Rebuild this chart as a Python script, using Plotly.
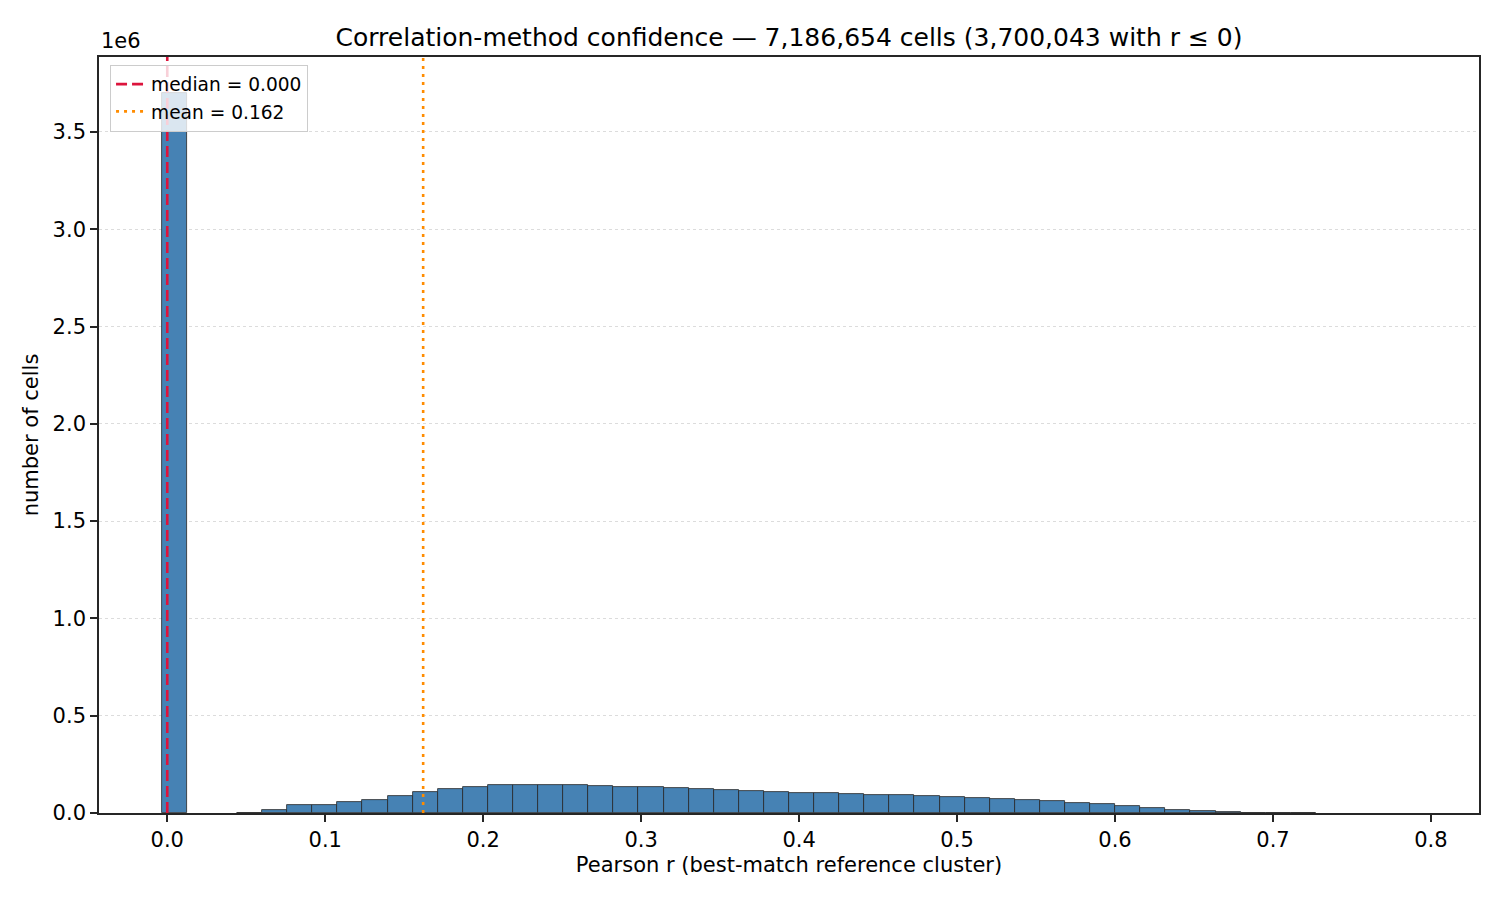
import plotly.graph_objects as go

# ==============================================================================
# DATA
# ==============================================================================

TITLE = "Correlation-method confidence — 7,186,654 cells (3,700,043 with r ≤ 0)"
X_LABEL = "Pearson r (best-match reference cluster)"
Y_LABEL = "number of cells"

# 50 equal bins spanning the observed r range
BIN_LO = -0.0035
BIN_HI = 0.7907
N_BINS = 50

BIN_COUNTS = [
    3700100, 0, 0, 2000, 15000, 41000, 42000, 57000, 67000, 87000,
    108000, 123000, 134000, 144000, 144000, 144000, 144000, 139000, 134000, 134000,
    129000, 123000, 118000, 113000, 108000, 103000, 103000, 98000, 93000, 93000,
    87000, 82000, 77000, 72000, 67000, 62000, 51000, 46000, 36000, 26000,
    15000, 10000, 5000, 2000, 800, 300, 0, 0, 0, 0,
]

MEDIAN_R = 0.000
MEAN_R = 0.162

X_TICKS = [0.0, 0.1, 0.2, 0.3, 0.4, 0.5, 0.6, 0.7, 0.8]
Y_TICKS_1E6 = [0.0, 0.5, 1.0, 1.5, 2.0, 2.5, 3.0, 3.5]

# ==============================================================================
# STYLE
# ==============================================================================

FONT = "DejaVu Sans"
BAR_COLOR = "#4682B4"
MEDIAN_COLOR = "#DC143C"
MEAN_COLOR = "#FF8C00"

bin_w = (BIN_HI - BIN_LO) / N_BINS
centers = [BIN_LO + (i + 0.5) * bin_w for i in range(N_BINS)]
x_pad = 0.05 * (BIN_HI - BIN_LO)
y_top = 1.05 * max(BIN_COUNTS)

# empty bins get no outline (otherwise plotly draws a flat line on the axis)
edge_widths = [0.8 if c > 0 else 0 for c in BIN_COUNTS]

fig = go.Figure()

fig.add_trace(go.Bar(
    x=centers,
    y=BIN_COUNTS,
    width=bin_w,
    marker=dict(color=BAR_COLOR, line=dict(color="#262626", width=edge_widths)),
    showlegend=False,
    hoverinfo="x+y",
))

# vertical reference lines (shapes so they span the full axes height)
fig.add_shape(
    type="line", xref="x", yref="paper", x0=MEDIAN_R, x1=MEDIAN_R, y0=0, y1=1,
    line=dict(color=MEDIAN_COLOR, width=2.6, dash="11px,5px"),
    layer="above", showlegend=True, name=f"median = {MEDIAN_R:.3f}",
)
fig.add_shape(
    type="line", xref="x", yref="paper", x0=MEAN_R, x1=MEAN_R, y0=0, y1=1,
    line=dict(color=MEAN_COLOR, width=2.6, dash="3px,5px"),
    layer="above", showlegend=True, name=f"mean = {MEAN_R:.3f}",
)

axis_common = dict(
    showline=True, linecolor="#262626", linewidth=1.6, mirror=True,
    ticks="outside", ticklen=7, tickwidth=1.6, tickcolor="#262626",
    tickfont=dict(family=FONT, size=21, color="black"),
    zeroline=False,
)

fig.update_xaxes(
    range=[BIN_LO - x_pad, BIN_HI + x_pad],
    tickvals=X_TICKS,
    ticktext=[f"{v:.1f}" for v in X_TICKS],
    showgrid=False,
    title=dict(text=X_LABEL, font=dict(family=FONT, size=21, color="black"), standoff=6),
    **axis_common,
)
fig.update_yaxes(
    range=[0, y_top],
    tickvals=[v * 1e6 for v in Y_TICKS_1E6],
    ticktext=[f"{v:.1f}" for v in Y_TICKS_1E6],
    showgrid=True, gridcolor="#dcdcdc", griddash="dot", gridwidth=1,
    title=dict(text=Y_LABEL, font=dict(family=FONT, size=21, color="black"), standoff=8),
    **axis_common,
)

fig.add_annotation(
    text="1e6", xref="paper", yref="paper", x=0, y=1,
    xanchor="left", yanchor="bottom", yshift=2, showarrow=False,
    font=dict(family=FONT, size=21, color="black"),
)

# the page body adds ~8px offset, so margins are shifted to compensate
fig.update_layout(
    width=1500, height=900,
    margin=dict(l=91, r=29, t=49, b=95),
    paper_bgcolor="white", plot_bgcolor="white",
    bargap=0,
    title=dict(
        text=TITLE, x=0.5, xref="paper", xanchor="center",
        y=1 - 29 / 900, yref="container", yanchor="middle",
        font=dict(family=FONT, size=25, color="black"),
    ),
    legend=dict(
        x=0.008, y=0.99, xanchor="left", yanchor="top",
        bgcolor="rgba(255,255,255,0.8)", bordercolor="#cccccc", borderwidth=1,
        font=dict(family=FONT, size=18.6, color="black"),
        tracegroupgap=0,
    ),
    font=dict(family=FONT, color="black"),
)

fig.write_html("out.html")
